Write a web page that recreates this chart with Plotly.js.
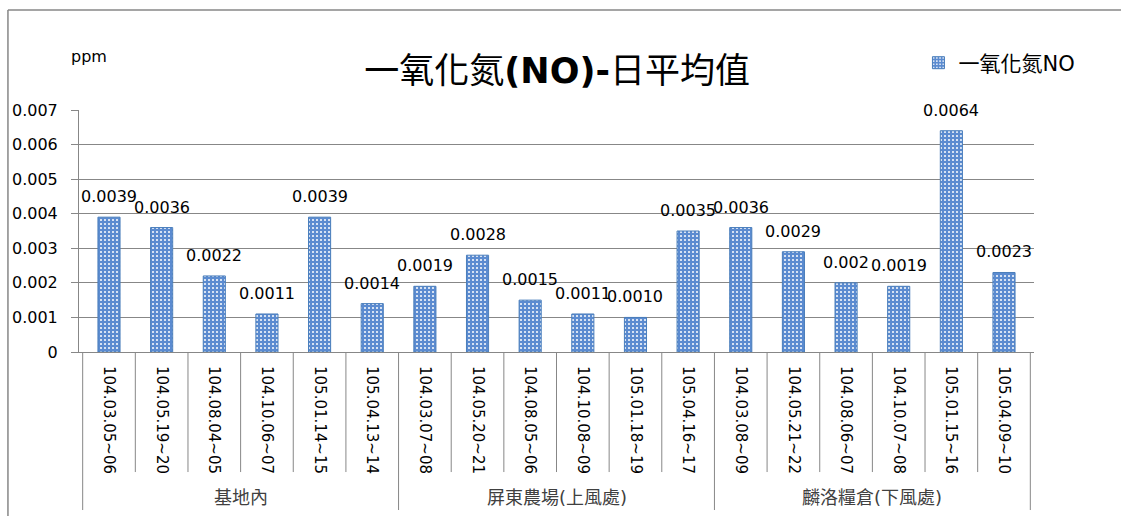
<!DOCTYPE html>
<html>
<head>
<meta charset="utf-8">
<script src="https://cdn.plot.ly/plotly-3.0.1.min.js"></script>
<style>
  body { margin: 0; background: #fff; }
  #chart { width: 1121px; height: 516px; }
</style>
</head>
<body>
<div id="chart"></div>
<script>
// sampling dates (ROC calendar) and station groups
const dates = [
  "104.03.05~06", "104.05.19~20", "104.08.04~05", "104.10.06~07", "105.01.14~15", "105.04.13~14",
  "104.03.07~08", "104.05.20~21", "104.08.05~06", "104.10.08~09", "105.01.18~19", "105.04.16~17",
  "104.03.08~09", "104.05.21~22", "104.08.06~07", "104.10.07~08", "105.01.15~16", "105.04.09~10"
];
const groups = ["基地內", "屏東農場(上風處)", "麟洛糧倉(下風處)"];
const groupSize = [6, 6, 6];

// NO daily mean, ppm
const noValues = [
  0.0039, 0.0036, 0.0022, 0.0011, 0.0039, 0.0014,
  0.0019, 0.0028, 0.0015, 0.0011, 0.0010, 0.0035,
  0.0036, 0.0029, 0.0020, 0.0019, 0.0064, 0.0023
];
const noLabels = [
  "0.0039", "0.0036", "0.0022", "0.0011", "0.0039", "0.0014",
  "0.0019", "0.0028", "0.0015", "0.0011", "0.0010", "0.0035",
  "0.0036", "0.0029", "0.002", "0.0019", "0.0064", "0.0023"
];

const font = "DejaVu Sans, Noto Sans CJK TC, sans-serif";
const grey = "#878787";

const trace = {
  x: dates,
  y: noValues,
  type: "bar",
  name: "一氧化氮NO",
  width: 0.42,
  marker: {
    color: "#5b8bd0",
    line: { color: "#4a7ebb", width: 1 },
    pattern: { shape: ".", fgcolor: "#ffffff", bgcolor: "#5b8bd0", size: 4, solidity: 0.2 }
  },
  hoverinfo: "x+y"
};

// category divider lines under the axis
const shapes = [];
let boundaries = [0];
groupSize.reduce((acc, n) => { boundaries.push(acc + n); return acc + n; }, 0);
for (let i = 0; i <= dates.length; i++) {
  const isGroup = boundaries.includes(i);
  shapes.push({
    type: "line", xref: "x", yref: "paper",
    x0: i - 0.5, x1: i - 0.5, y0: 0, y1: isGroup ? -0.653 : -0.496,
    line: { color: grey, width: 1 }
  });
}
// outer chart frame (left + top, right side runs off the picture)
shapes.push({ type: "line", xref: "paper", yref: "paper", x0: -0.0744, x1: -0.0744, y0: 1.413, y1: -0.7, line: { color: grey, width: 1.5 } });
shapes.push({ type: "line", xref: "paper", yref: "paper", x0: -0.0744, x1: 1.1, y0: 1.413, y1: 1.413, line: { color: grey, width: 1.5 } });

const annotations = [];
// value labels above bars
noValues.forEach((v, i) => {
  annotations.push({
    x: dates[i], y: v, xref: "x", yref: "y", text: noLabels[i],
    showarrow: false, yanchor: "bottom", yshift: 9,
    font: { family: font, size: 16, color: "#000" }
  });
});
// group labels
let start = 0;
groups.forEach((g, k) => {
  annotations.push({
    x: start + (groupSize[k] - 1) / 2, y: -0.6, xref: "x", yref: "paper",
    text: g, showarrow: false, yanchor: "middle",
    font: { family: font, size: 18, color: "#404040" }
  });
  start += groupSize[k];
});
// unit label
annotations.push({
  x: -0.01, y: 1.22, xref: "paper", yref: "paper", text: "ppm",
  showarrow: false, xanchor: "left", yanchor: "middle",
  font: { family: font, size: 16, color: "#000" }
});

const layout = {
  width: 1121,
  height: 516,
  margin: { l: 79, r: 87, t: 110, b: 164 },
  paper_bgcolor: "#ffffff",
  plot_bgcolor: "#ffffff",
  font: { family: font, size: 16, color: "#000" },
  title: {
    text: "一氧化氮<b>(NO)-</b>日平均值",
    font: { family: font, size: 35, color: "#000" },
    x: 0.497, xanchor: "center", y: 0.862, yanchor: "middle"
  },
  showlegend: true,
  legend: {
    x: 0.879, y: 1.194, xanchor: "left", yanchor: "middle",
    font: { family: font, size: 21, color: "#000" },
    bgcolor: "rgba(0,0,0,0)", itemwidth: 30
  },
  xaxis: {
    type: "category",
    tickangle: 90,
    ticks: "",
    showline: true, linecolor: grey, linewidth: 1,
    showgrid: false,
    ticklabelstandoff: 10,
    tickfont: { family: font, size: 15, color: "#000" }
  },
  yaxis: {
    range: [0, 0.007],
    dtick: 0.001,
    tick0: 0,
    ticks: "outside", ticklen: 7, tickcolor: grey,
    showline: true, linecolor: grey, linewidth: 1,
    showgrid: true, gridcolor: grey, gridwidth: 1,
    zeroline: false,
    ticklabelstandoff: 10,
    tickfont: { family: font, size: 16, color: "#000" }
  },
  bargap: 0.58,
  shapes: shapes,
  annotations: annotations
};

Plotly.newPlot("chart", [trace], layout, { staticPlot: true });
</script>
</body>
</html>
